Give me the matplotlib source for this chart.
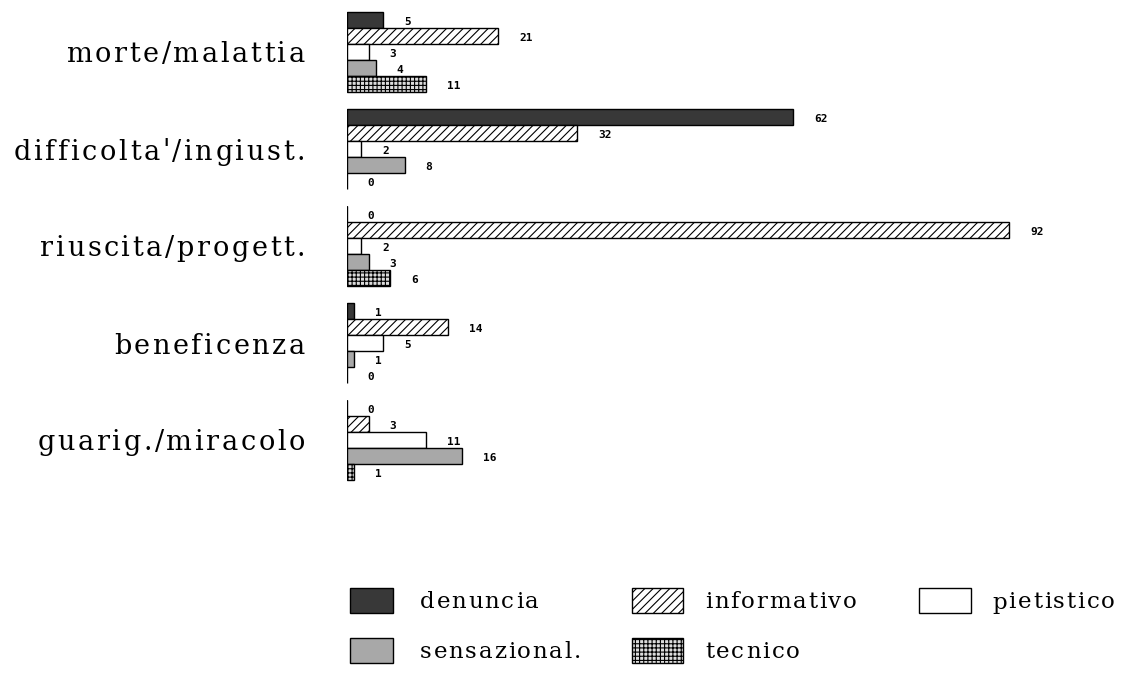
import numpy as np
import matplotlib
matplotlib.use("Agg")
import matplotlib.pyplot as plt
from matplotlib.patches import Rectangle
from matplotlib.font_manager import FontProperties

# data
categories = ["morte/malattia", "difficolta'/ingiust.", "riuscita/progett.",
              "beneficenza", "guarig./miracolo"]
series = ["denuncia", "informativo", "pietistico", "sensazional.", "tecnico"]
denuncia = [5, 62, 0, 1, 0]
informativo = [21, 32, 92, 14, 3]
pietistico = [3, 2, 2, 5, 11]
sensazional = [4, 8, 3, 1, 16]
tecnico = [11, 0, 6, 0, 1]
values = [denuncia, informativo, pietistico, sensazional, tecnico]

styles = [
    dict(facecolor="#383838", hatch=None),
    dict(facecolor="white", hatch="////"),
    dict(facecolor="white", hatch=None),
    dict(facecolor="#a8a8a8", hatch=None),
    dict(facecolor="#dcdcdc", hatch="++++"),
]

W, H = 1125, 673
plt.rcParams["hatch.linewidth"] = 0.8
fig = plt.figure(figsize=(W / 100, H / 100), dpi=100)
renderer = fig.canvas.get_renderer()


def tracked_text(x_px, y_px, s, size, track, ha="left"):
    # draw text char by char with extra letter spacing (pixel coords from top-left)
    fp = FontProperties(family="DejaVu Serif", size=size)
    offs = []
    for i in range(len(s)):
        w = renderer.get_text_width_height_descent(s[:i], fp, ismath=False)[0] if i else 0
        offs.append(w + i * track)
    total = renderer.get_text_width_height_descent(s, fp, ismath=False)[0] + (len(s) - 1) * track
    x0 = x_px - total if ha == "right" else x_px
    for ch, o in zip(s, offs):
        fig.text((x0 + o) / W, 1 - y_px / H, ch, fontproperties=fp,
                 ha="left", va="center_baseline")


# axes spans full height; y units = group spacing (97 px), group 0 centred at 52 px
ax = fig.add_axes([347 / W, 0, 720 / W, 1])
gsp = 97.0
ax.set_ylim((H - 52) / gsp, -52 / gsp)
ax.set_xlim(0, 100)
ax.axis("off")

bar_h = 16 / gsp
y = np.arange(len(categories))
for i, (name, vals) in enumerate(zip(series, values)):
    ypos = y + (i - 2) * bar_h
    ax.barh(ypos, vals, height=bar_h, edgecolor="black", linewidth=1.0,
            **styles[i])
    for yy, v in zip(ypos, vals):
        ax.annotate(str(v), (v, yy), xytext=(15, -1.5), textcoords="offset points",
                    ha="left", va="center", fontsize=8, fontweight="bold",
                    family="DejaVu Sans Mono")

# left axis line drawn per group
for g in y:
    ax.vlines(0, g - 2.5 * bar_h, g + 2.5 * bar_h, color="black", linewidth=1.2)

for g, cat in zip(y, categories):
    tracked_text(305, 52 + g * gsp, cat, 19.5, 2.6, ha="right")

# legend drawn manually in two rows
leg_box = [(350, 43), (632, 51), (919, 52), (350, 43), (632, 51)]
leg_row = [600, 600, 600, 650, 650]
leg_text = [420, 705, 992, 420, 705]
for i, name in enumerate(series):
    bx, bw = leg_box[i]
    rect = Rectangle((bx / W, 1 - (leg_row[i] + 12.5) / H), bw / W, 25 / H,
                     transform=fig.transFigure, edgecolor="black",
                     linewidth=1.0, **styles[i])
    fig.add_artist(rect)
    tracked_text(leg_text[i], leg_row[i], name, 16.5, 1.8)

fig.savefig("out.png", dpi=100)
